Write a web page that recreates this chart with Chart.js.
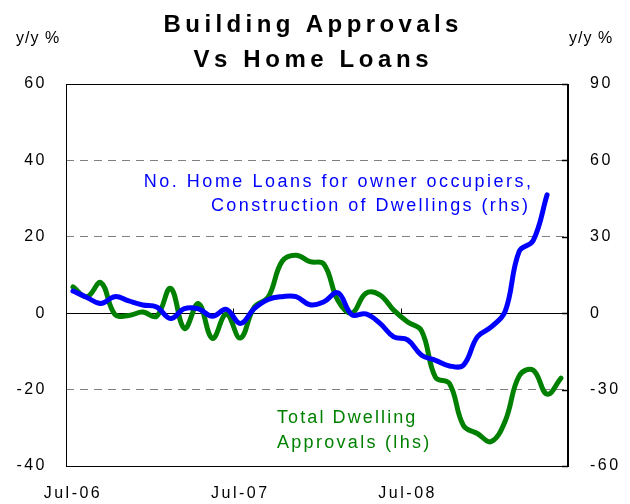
<!DOCTYPE html>
<html lang="en">
<head>
  <meta charset="UTF-8">
  <title>Building Approvals Vs Home Loans</title>
  <script src="https://cdn.jsdelivr.net/npm/chart.js"></script>
  <style>
    html, body { margin: 0; padding: 0; background: #fff; }
    #wrap { width: 630px; height: 504px; }
  </style>
</head>
<body>
  <div id="wrap"><canvas id="grafico" width="630" height="504"></canvas></div>

  <script>
    // monthly, Jul-06 .. Jun-09
    const months = [
      'Jul-06','Aug-06','Sep-06','Oct-06','Nov-06','Dec-06','Jan-07','Feb-07','Mar-07','Apr-07','May-07','Jun-07',
      'Jul-07','Aug-07','Sep-07','Oct-07','Nov-07','Dec-07','Jan-08','Feb-08','Mar-08','Apr-08','May-08','Jun-08',
      'Jul-08','Aug-08','Sep-08','Oct-08','Nov-08','Dec-08','Jan-09','Feb-09','Mar-09','Apr-09','May-09','Jun-09'
    ];
    // Total dwelling approvals, y/y % (lhs)
    const approvals = [
      6.9, 4.3, 8.0, -0.3, -0.6, 0.3, -0.8, 6.5, -4.0, 2.5, -6.6, -0.3,
      -6.5, 1.6, 4.2, 13.6, 15.2, 13.5, 12.8, 3.3, 0.0, 5.2, 4.8, 0.8,
      -2.3, -4.6, -16.8, -18.4, -29.4, -31.5, -33.6, -28.2, -16.4, -14.9, -21.2, -17.0
    ];
    // No. home loans for owner occupiers, construction of dwellings, y/y % (rhs)
    const homeLoans = [
      8.7, 6.2, 3.8, 6.5, 4.8, 3.2, 2.4, -2.1, 1.8, 1.7, -1.2, 1.5,
      -4.0, 1.8, 5.4, 6.5, 6.5, 3.3, 4.5, 8.0, -0.6, -0.3, -3.9, -9.3,
      -10.5, -16.5, -18.5, -20.7, -20.4, -9.3, -5.4, 0.8, 24.3, 28.5, 46.5, null
    ];
    const leftTicks = [60, 40, 20, 0, -20, -40];
    const rightTicks = [90, 60, 30, 0, -30, -60];
    const dashedLeft = [40, 20, -20];

    const FONT = "Arial, 'Liberation Sans', sans-serif";
    Chart.defaults.font.family = FONT;
    Chart.defaults.font.size = 16;
    Chart.defaults.color = '#000';

    function spacedText(ctx, txt, x, y, spacing, align) {
      ctx.letterSpacing = spacing + 'px';
      const w = ctx.measureText(txt).width - spacing;
      let sx = x;
      if (align === 'center') sx = x - w / 2;
      if (align === 'right') sx = x - w;
      ctx.textAlign = 'left';
      ctx.fillText(txt, sx, y);
    }

    const framePlugin = {
      id: 'frame',
      beforeDraw(chart) {
        chart.ctx.letterSpacing = '2.5px';
      },
      beforeDatasetsDraw(chart) {
        const ctx = chart.ctx;
        const a = chart.chartArea;
        const x = chart.scales.x;
        const y = chart.scales.y;
        const y1 = chart.scales.y1;
        const y0 = Math.round(y.getPixelForValue(0)) + 0.5;
        ctx.save();
        ctx.strokeStyle = '#000';
        ctx.lineWidth = 1;
        // zero line
        ctx.beginPath();
        ctx.moveTo(a.left, y0);
        ctx.lineTo(a.right, y0);
        ctx.stroke();
        // year ticks on zero line
        [12, 24].forEach(i => {
          const px = Math.round((x.getPixelForValue(i - 1) + x.getPixelForValue(i)) / 2) + 0.5;
          ctx.beginPath();
          ctx.moveTo(px, y0);
          ctx.lineTo(px, y0 - 5);
          ctx.stroke();
        });
        // frame
        ctx.strokeRect(Math.round(a.left) + 0.5, Math.round(a.top) + 0.5,
          Math.round(a.right - a.left), Math.round(a.bottom - a.top));
        // right axis
        ctx.lineWidth = 2;
        ctx.beginPath();
        ctx.moveTo(Math.round(a.right), a.top);
        ctx.lineTo(Math.round(a.right), a.bottom + 1);
        ctx.stroke();
        ctx.lineWidth = 1.5;
        rightTicks.forEach(v => {
          const py = Math.round(y1.getPixelForValue(v)) + 0.5;
          ctx.beginPath();
          ctx.moveTo(a.right - 6, py);
          ctx.lineTo(a.right, py);
          ctx.stroke();
        });
        ctx.restore();
      },
      afterDraw(chart) {
        const ctx = chart.ctx;
        ctx.save();
        ctx.textBaseline = 'alphabetic';
        ctx.fillStyle = '#000';
        ctx.font = 'bold 24px ' + FONT;
        spacedText(ctx, 'Building Approvals', 311, 32, 4.4, 'center');
        spacedText(ctx, 'Vs Home Loans', 311, 67, 4.6, 'center');
        ctx.font = '16px ' + FONT;
        spacedText(ctx, 'y/y %', 16, 43, 1, 'left');
        spacedText(ctx, 'y/y %', 569, 43, 1, 'left');
        ctx.font = '18px ' + FONT;
        ctx.fillStyle = '#0000ff';
        spacedText(ctx, 'No. Home Loans for owner occupiers,', 531, 186.5, 2.5, 'right');
        spacedText(ctx, 'Construction of Dwellings (rhs)', 528, 210.5, 2.4, 'right');
        ctx.fillStyle = '#008000';
        spacedText(ctx, 'Total Dwelling', 277, 423, 2.1, 'left');
        spacedText(ctx, 'Approvals (lhs)', 277, 447.5, 2.3, 'left');
        ctx.restore();
      }
    };

    const ctx = document.getElementById('grafico').getContext('2d');
    const chart = new Chart(ctx, {
      type: 'line',
      data: {
        labels: months,
        datasets: [
          {
            label: 'No. Home Loans for owner occupiers, Construction of Dwellings (rhs)',
            data: homeLoans,
            yAxisID: 'y1',
            borderColor: '#0000ff',
            borderWidth: 5,
            pointRadius: 0,
            tension: 0.4,
            borderCapStyle: 'round',
            borderJoinStyle: 'round',
            fill: false
          },
          {
            label: 'Total Dwelling Approvals (lhs)',
            data: approvals,
            yAxisID: 'y',
            borderColor: '#008000',
            borderWidth: 5,
            pointRadius: 0,
            tension: 0.4,
            borderCapStyle: 'round',
            borderJoinStyle: 'round',
            fill: false
          }
        ]
      },
      options: {
        responsive: false,
        animation: false,
        devicePixelRatio: 1,
        layout: { padding: { top: 84, left: 0, right: 0, bottom: 0 } },
        plugins: {
          legend: { display: false },
          title: { display: false },
          tooltip: { enabled: false }
        },
        scales: {
          x: {
            type: 'category',
            offset: true,
            grid: { display: false, drawTicks: false },
            border: { display: false },
            ticks: {
              autoSkip: false,
              maxRotation: 0,
              padding: 18,
              callback: function (val, i) { return i % 12 === 0 ? this.getLabelForValue(val) : ''; }
            },
            afterFit: s => { s.height = 38; }
          },
          y: {
            position: 'left',
            min: -40,
            max: 60,
            afterBuildTicks: s => { s.ticks = leftTicks.map(v => ({ value: v })); },
            grid: {
              drawTicks: false,
              lineWidth: 1,
              color: c => dashedLeft.includes(c.tick && c.tick.value) ? '#808080' : 'rgba(0,0,0,0)'
            },
            border: { display: false, dash: [8, 6] },
            ticks: { padding: 19 },
            afterFit: s => { s.width = 66; }
          },
          y1: {
            position: 'right',
            min: -60,
            max: 90,
            afterBuildTicks: s => { s.ticks = rightTicks.map(v => ({ value: v })); },
            grid: { display: false, drawTicks: false },
            border: { display: false },
            ticks: { padding: 22 },
            afterFit: s => { s.width = 62; }
          }
        }
      },
      plugins: [framePlugin]
    });
  </script>
</body>
</html>
